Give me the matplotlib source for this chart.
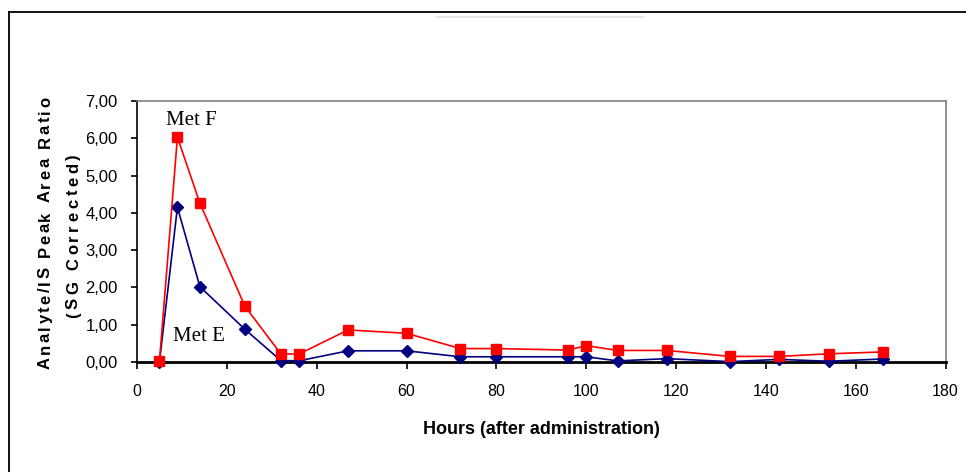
import matplotlib
matplotlib.use("Agg")
import matplotlib.pyplot as plt
from matplotlib.lines import Line2D
from matplotlib.ticker import FuncFormatter, MultipleLocator

# hours after administration
hours = [5, 9, 14, 24, 32, 36, 47, 60, 72, 80, 96, 100, 107, 118, 132, 143, 154, 166]

# peak area ratios (SG corrected)
met_f = [0.02, 6.03, 4.26, 1.50, 0.22, 0.21, 0.86, 0.77, 0.36, 0.36, 0.32, 0.44, 0.31, 0.31, 0.15, 0.15, 0.22, 0.27]
met_e = [0.00, 4.15, 2.02, 0.88, 0.04, 0.03, 0.30, 0.30, 0.14, 0.14, 0.14, 0.14, 0.03, 0.09, 0.01, 0.07, 0.02, 0.08]

W, H = 966, 472
fig = plt.figure(figsize=(W / 100, H / 100), dpi=100)

def fx(px):
    return px / W

def fy(py):
    return 1 - py / H

ax = fig.add_axes([fx(137), fy(362), fx(945.5) - fx(137), fy(101) - fy(362)])

ax.plot(hours, met_e, color="#000080", lw=1.2, marker="D", ms=6,
        mfc="#000080", mec="#000080", zorder=3, clip_on=False)
ax.plot(hours, met_f, color="#FF0000", lw=1.2, marker="s", ms=7,
        mfc="#FF0000", mec="#FF0000", zorder=4, clip_on=False)

ax.set_xlim(0, 180)
ax.set_ylim(0, 7)
ax.xaxis.set_major_locator(MultipleLocator(20))
ax.yaxis.set_major_locator(MultipleLocator(1))
ax.yaxis.set_major_formatter(FuncFormatter(lambda v, p: f"{v:.2f}".replace(".", ",")))

for side in ["top", "right"]:
    ax.spines[side].set_color("#808080")
    ax.spines[side].set_linewidth(1.2)
ax.spines["left"].set_color("black")
ax.spines["left"].set_linewidth(1.2)
ax.spines["bottom"].set_color("black")
ax.spines["bottom"].set_linewidth(2.0)

ax.tick_params(axis="x", direction="out", length=5, width=1.2, pad=11,
               labelsize=11.5, colors="black")
ax.tick_params(axis="y", direction="out", length=4, width=1.2, pad=10,
               labelsize=12, colors="black")
for lab in ax.get_xticklabels() + ax.get_yticklabels():
    lab.set_family("Liberation Sans")

ax.set_xlabel("Hours (after administration)", family="Liberation Sans",
              fontsize=13, fontweight="bold", labelpad=16)

# series names
ax.text(6.5, 6.35, "Met F", family="Liberation Serif", fontsize=15,
        ha="left", va="baseline")
ax.text(8.0, 0.56, "Met E", family="Liberation Serif", fontsize=15,
        ha="left", va="baseline")

# y label, spread out letters like the original
fig.canvas.draw()
rend = fig.canvas.get_renderer()
lab_kw = dict(family="Liberation Sans", fontsize=12, fontweight="bold")

def char_width(ch):
    a = fig.text(0, 0, "H" + ch + "H", **lab_kw)
    b = fig.text(0, 0, "HH", **lab_kw)
    w = a.get_window_extent(rend).width - b.get_window_extent(rend).width
    a.remove()
    b.remove()
    return w

def spaced_vlabel(s, base_x, center_y, gap):
    widths = [char_width(c) for c in s]
    total = sum(widths) + gap * (len(s) - 1)
    y = center_y + total / 2  # pixel from top, text runs upward
    for c, w in zip(s, widths):
        fig.text(fx(base_x), fy(y), c, rotation=90, rotation_mode="anchor",
                 ha="left", va="baseline", **lab_kw)
        y -= w + gap

spaced_vlabel("Analyte/IS Peak Area Ratio", 50, 233, 2.4)
spaced_vlabel("(SG Corrected)", 78, 236, 3.5)

# outer chart frame
fig.add_artist(Line2D([fx(9), fx(9)], [fy(12), 0], color="black", lw=1.3))
fig.add_artist(Line2D([fx(9), 1], [fy(12), fy(12)], color="black", lw=1.3))
fig.add_artist(Line2D([fx(437), fx(643)], [fy(17), fy(17)], color="#e6e6e6", lw=1.5))

fig.savefig("out.png", dpi=100)
